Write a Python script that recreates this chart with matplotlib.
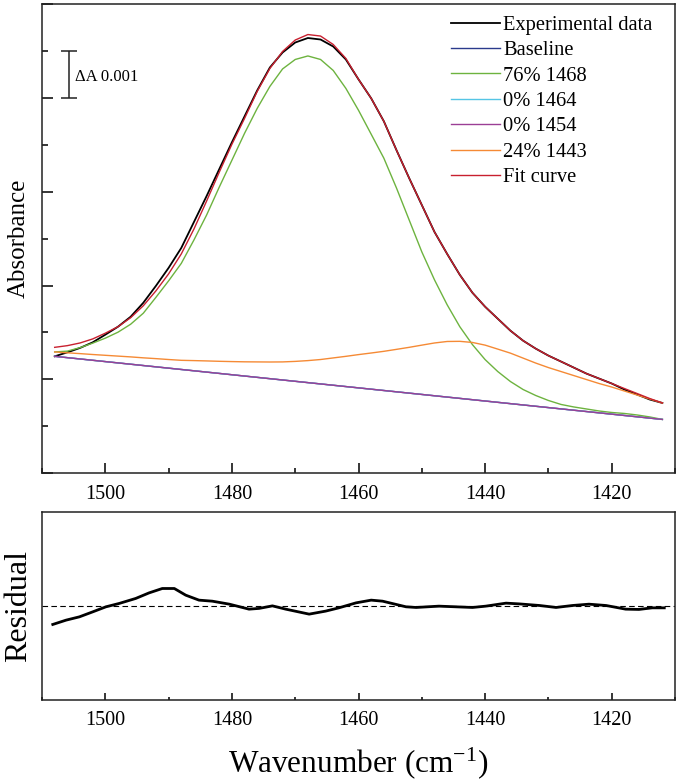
import matplotlib
matplotlib.use('Agg')
import matplotlib.pyplot as plt
from matplotlib.ticker import MultipleLocator, NullFormatter

plt.rcParams['font.family'] = ['Liberation Serif', 'DejaVu Serif']
plt.rcParams['mathtext.fontset'] = 'custom'
plt.rcParams['mathtext.rm'] = 'Liberation Serif'
plt.rcParams['mathtext.default'] = 'regular'

# ── DATA (absorbance in units of 1e-3) ───────────────────────
wavenumber = [1508, 1506, 1504, 1502, 1500, 1498, 1496, 1494, 1492, 1490,
              1488, 1486, 1484, 1482, 1480, 1478, 1476, 1474, 1472, 1470,
              1468, 1466, 1464, 1462, 1460, 1458, 1456, 1454, 1452, 1450,
              1448, 1446, 1444, 1442, 1440, 1438, 1436, 1434, 1432, 1430,
              1428, 1426, 1424, 1422, 1420, 1418, 1416, 1414, 1412]

experimental = [2.489, 2.574, 2.668, 2.787, 2.951, 3.121, 3.334, 3.632, 3.994, 4.377,
                4.802, 5.355, 5.909, 6.483, 7.057, 7.611, 8.164, 8.653, 8.972, 9.185,
                9.281, 9.249, 9.100, 8.823, 8.398, 7.994, 7.504, 6.887, 6.291, 5.717,
                5.143, 4.674, 4.228, 3.845, 3.547, 3.291, 3.036, 2.823, 2.653, 2.504,
                2.377, 2.249, 2.121, 2.015, 1.909, 1.781, 1.674, 1.568, 1.494]

fit_curve = [2.681, 2.717, 2.774, 2.860, 2.983, 3.121, 3.313, 3.568, 3.887, 4.249,
             4.674, 5.206, 5.802, 6.419, 7.015, 7.568, 8.143, 8.632, 8.994, 9.238,
             9.355, 9.323, 9.143, 8.845, 8.398, 7.994, 7.504, 6.887, 6.291, 5.717,
             5.143, 4.674, 4.228, 3.845, 3.547, 3.291, 3.036, 2.823, 2.653, 2.504,
             2.377, 2.249, 2.121, 2.015, 1.909, 1.802, 1.696, 1.589, 1.494]

band_1468 = [2.583, 2.600, 2.674, 2.770, 2.877, 3.004, 3.174, 3.409, 3.749, 4.100,
             4.472, 4.972, 5.504, 6.100, 6.674, 7.249, 7.781, 8.249, 8.621, 8.823,
             8.898, 8.823, 8.589, 8.206, 7.738, 7.228, 6.717, 6.079, 5.398, 4.717,
             4.121, 3.589, 3.121, 2.738, 2.419, 2.164, 1.951, 1.781, 1.653, 1.547,
             1.462, 1.409, 1.366, 1.323, 1.291, 1.270, 1.238, 1.196, 1.143]

band_1443 = [2.583, 2.564, 2.547, 2.528, 2.511, 2.494, 2.477, 2.457, 2.440, 2.421,
             2.404, 2.398, 2.391, 2.383, 2.377, 2.372, 2.370, 2.368, 2.370, 2.381,
             2.398, 2.421, 2.455, 2.489, 2.526, 2.560, 2.596, 2.638, 2.681, 2.728,
             2.774, 2.806, 2.809, 2.785, 2.728, 2.643, 2.557, 2.451, 2.345, 2.249,
             2.164, 2.079, 1.994, 1.909, 1.834, 1.749, 1.664, 1.579, 1.494]

# straight baseline; the 0 % bands sit on it
baseline_wn = [1508, 1412]
baseline = [2.489, 1.143]
band_1464 = [2.489, 1.143]
band_1454 = [2.489, 1.143]

residual_wn = [1508.3, 1506.2, 1504.1, 1502.0, 1499.9, 1497.8, 1495.2, 1493.1, 1491.0, 1489.1,
               1487.3, 1485.2, 1483.1, 1480.4, 1477.3, 1475.7, 1473.6, 1471.5, 1467.8, 1465.2,
               1463.1, 1460.4, 1458.0, 1456.2, 1452.5, 1450.9, 1447.3, 1442.0, 1439.9, 1436.7,
               1434.6, 1431.4, 1428.8, 1426.2, 1423.6, 1420.9, 1417.8, 1415.7, 1413.6, 1411.7]
residual = [-0.195, -0.149, -0.114, -0.061, -0.007, 0.029, 0.082, 0.141, 0.188, 0.188,
            0.117, 0.064, 0.053, 0.021, -0.032, -0.024, 0.003, -0.032, -0.085, -0.053,
            -0.018, 0.035, 0.064, 0.053, -0.007, -0.014, 0.000, -0.014, 0.000, 0.032,
            0.024, 0.007, -0.014, 0.007, 0.021, 0.007, -0.032, -0.035, -0.018, -0.018]

# ── FIGURE ───────────────────────────────────────────────────
fig = plt.figure(figsize=(6.8, 7.84), dpi=100)
ax = fig.add_axes([0.0618, 0.3967, 0.9309, 0.5978])
ax_r = fig.add_axes([0.0618, 0.1071, 0.9309, 0.2395])

ax.plot(wavenumber, experimental, color='#000000', lw=1.3, label='Experimental data')
ax.plot(baseline_wn, baseline, color='#2a3a8c', lw=1.0, label='Baseline')
ax.plot(wavenumber, band_1468, color='#6db33f', lw=1.0, label='76% 1468')
ax.plot(baseline_wn, band_1464, color='#55c5e5', lw=1.0, label='0% 1464')
ax.plot(baseline_wn, band_1454, color='#9b3f95', lw=1.0, label='0% 1454')
ax.plot(wavenumber, band_1443, color='#f58a35', lw=1.0, label='24% 1443')
ax.plot(wavenumber, fit_curve, color='#c8202f', lw=1.0, label='Fit curve')

# ΔA scale bar
ax.errorbar([1505.8], [8.5], yerr=[[0.5], [0.5]], color='#222222', lw=1.1,
            capsize=6, capthick=1.1)
ax.text(1504.8, 8.45, 'ΔA 0.001', fontsize=12, va='center', ha='left')

ax.set_xlim(1510, 1410)
ax.set_ylim(0, 10)
ax.xaxis.set_major_locator(MultipleLocator(20))
ax.xaxis.set_minor_locator(MultipleLocator(10))
ax.yaxis.set_major_locator(MultipleLocator(2))
ax.yaxis.set_minor_locator(MultipleLocator(1))
ax.yaxis.set_major_formatter(NullFormatter())
ax.tick_params(axis='x', which='both', direction='in', labelsize=14.5, pad=9)
ax.tick_params(axis='x', which='major', length=7.2, width=1.1)
ax.tick_params(axis='x', which='minor', length=3.6, width=1.1)
ax.tick_params(axis='y', which='major', direction='in', length=8, width=1.1)
ax.tick_params(axis='y', which='minor', direction='in', length=4, width=1.1)
ax.set_ylabel('Absorbance', fontsize=18, labelpad=5.5)

ax.legend(loc='upper left', bbox_to_anchor=(0.646, 0.976), frameon=False,
          fontsize=14.8, handlelength=2.4, handletextpad=0.15, labelspacing=0.29,
          borderpad=0, borderaxespad=0)

# ── RESIDUAL PANEL ───────────────────────────────────────────
ax_r.plot(residual_wn, residual, color='#000000', lw=2.0)
ax_r.axhline(0, color='#000000', lw=0.8, linestyle=(0, (5, 3)))
ax_r.set_xlim(1510, 1410)
ax_r.set_ylim(-1, 1)
ax_r.set_yticks([])
ax_r.xaxis.set_major_locator(MultipleLocator(20))
ax_r.xaxis.set_minor_locator(MultipleLocator(10))
ax_r.tick_params(axis='x', which='both', direction='in', labelsize=14.5, pad=8)
ax_r.tick_params(axis='x', which='major', length=4.8, width=1.1)
ax_r.tick_params(axis='x', which='minor', length=2.4, width=1.1)
ax_r.set_ylabel('Residual', fontsize=23, labelpad=6.5)
ax_r.set_xlabel('Wavenumber (cm$^{-1}$)', fontsize=22.5, labelpad=11)

for a in (ax, ax_r):
    for s in a.spines.values():
        s.set_linewidth(1.1)
        s.set_color('#222222')

fig.savefig('out.png', dpi=100, facecolor='white')
